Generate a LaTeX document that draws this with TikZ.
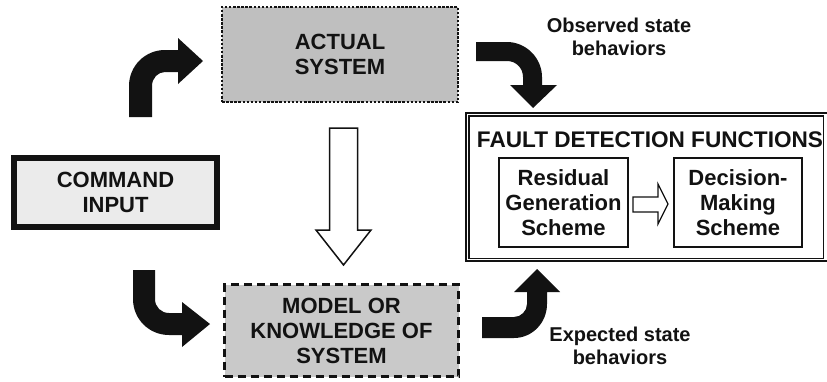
\documentclass[tikz,border=0pt]{standalone}
\usepackage{fontspec}
\setmainfont{Liberation Sans}
\definecolor{actfill}{gray}{0.75}
\definecolor{modfill}{gray}{0.79}
\definecolor{cmdfill}{gray}{0.92}
\definecolor{ink}{gray}{0.07}
\begin{document}
\begin{tikzpicture}[x=1pt,y=-1pt,
  boxtext/.style={font=\bfseries\fontsize{22}{25}\selectfont, align=center, inner sep=0pt, text=ink},
  lbltext/.style={font=\bfseries\fontsize{20}{23}\selectfont, align=center, inner sep=0pt, text=ink},
  actbox/.style={boxtext, draw=ink, fill=actfill, line width=2.5pt, dash pattern=on 2.5pt off 1.6pt, minimum width=236pt, minimum height=95pt},
  cmdbox/.style={boxtext, draw=ink, fill=cmdfill, line width=6pt, minimum width=203pt, minimum height=69pt},
  modbox/.style={boxtext, draw=ink, fill=modfill, line width=3pt, dash pattern=on 8pt off 5pt, minimum width=234pt, minimum height=92pt},
  fdfbox/.style={draw=ink, fill=white, line width=2.5pt, minimum width=365pt, minimum height=148pt, inner sep=0pt},
  subbox/.style={boxtext, draw=ink, fill=white, line width=1.5pt, minimum height=89pt},
  fatarrow/.style={fill=ink, draw=none},
  hollowarrow/.style={fill=white, draw=ink, line width=1.5pt, line join=miter}
]
\useasboundingbox (0,0) rectangle (827,381);
\clip (0,0) rectangle (827,381);
\fill[white] (0,0) rectangle (827,381);

% boxes
\node[actbox] (act) at (340,54.5) {ACTUAL\\SYSTEM};
\node[cmdbox] (cmd) at (115.5,192.5) {COMMAND\\INPUT};
\node[modbox] (mod) at (341.5,330.5) {MODEL OR\\KNOWLEDGE OF\\SYSTEM};
\node[fdfbox] (fdf) at (648.5,187) {};
\draw[ink, line width=1.5pt] ([shift={(4,4)}]fdf.north west) rectangle ([shift={(-9,-4)}]fdf.south east);
\node[boxtext, font=\bfseries\fontsize{22.6}{25}\selectfont] (fdft) at (650,140) {FAULT DETECTION FUNCTIONS};
\node[subbox, minimum width=129pt] (res) at (563.5,202.5) {Residual\\Generation\\Scheme};
\node[subbox, minimum width=128pt] (dec) at (738,202.5) {Decision-\\Making\\Scheme};

% labels
\node[lbltext] (obs) at (619,37) {Observed state\\behaviors};
\node[lbltext] (exp) at (620,346) {Expected state\\behaviors};

% fat bent arrows
% command -> actual system
\path[fatarrow] (129,117) -- (129,86) .. controls (129,66) and (145,50) .. (165,50)
  -- (178,50) -- (178,38) -- (203,61) -- (178,84) -- (178,72) -- (165,72)
  .. controls (158,72) and (152,78) .. (152,86) -- (152,117) -- cycle;
% command -> model
\path[fatarrow] (133,270) -- (133,299) .. controls (133,319) and (149,335) .. (169,335)
  -- (182,335) -- (182,347) -- (210,324) -- (182,302) -- (182,313) -- (169,313)
  .. controls (161,313) and (155,307) .. (155,299) -- (155,270) -- cycle;
% actual system -> fault detection
\path[fatarrow] (476,42) -- (507,42) .. controls (526,42) and (542,58) .. (542,77)
  -- (542,85) -- (557,85) -- (533,108) -- (510,85) -- (523,85) -- (523,77)
  .. controls (523,68) and (516,61) .. (507,61) -- (476,61) -- cycle;
% model -> fault detection
\path[fatarrow] (482,317) -- (514,317) .. controls (521,317) and (527,311) .. (527,304)
  -- (527,292) -- (514,292) -- (537,269) -- (560,292) -- (547,292) -- (547,304)
  .. controls (547,323) and (532,338) .. (514,338) -- (482,338) -- cycle;

% hollow arrows
\path[hollowarrow] (329.5,128) -- (357.5,128) -- (357.5,230) -- (371,230) -- (343.5,265)
  -- (316,230) -- (329.5,230) -- cycle;
\path[hollowarrow, line width=1.2pt] (633,197) -- (658,197) -- (658,184) -- (668,204)
  -- (658,224) -- (658,212) -- (633,212) -- cycle;
\end{tikzpicture}
\end{document}
